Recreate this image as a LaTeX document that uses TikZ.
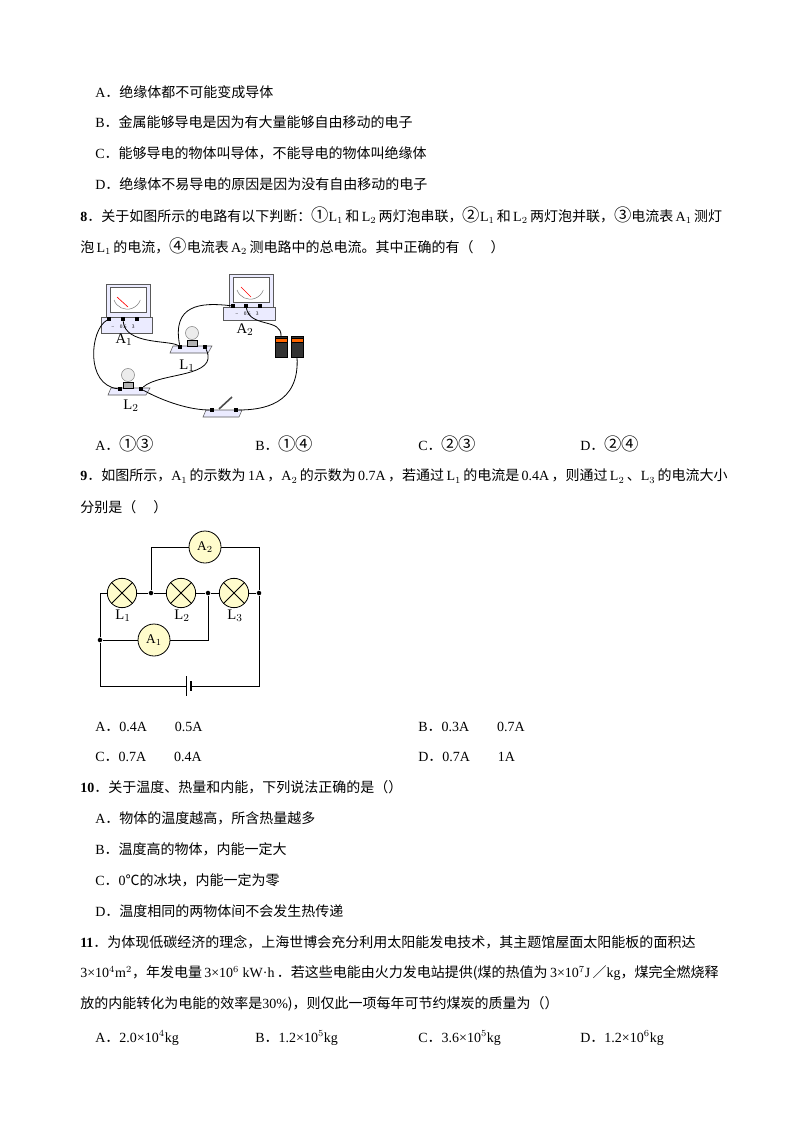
\documentclass[tikz,border=0pt]{standalone}
\usepackage{fontspec}
\setmainfont{Noto Sans CJK SC}
\newfontfamily\lat{Liberation Serif}
\newcommand{\lt}[1]{{\lat\,#1\,}}
\newcommand{\lo}[1]{{\lat #1}}
\newcommand{\nb}[1]{{\lat\bfseries #1}}
\newcommand{\cn}[1]{{\fontsize{13}{12}\selectfont #1}}
\usetikzlibrary{positioning}

\begin{document}
\begin{tikzpicture}[x=0.75pt,y=-0.75pt,
  txt/.style={anchor=west,inner sep=0pt,font=\fontsize{10.5}{12}\selectfont},
  wire/.style={line width=0.6pt,black},
  lamp/.style={circle,draw,line width=0.6pt,fill=yellow!20,minimum size=22,inner sep=0pt},
  meter/.style={circle,draw,line width=0.6pt,fill=yellow!20,minimum size=24,inner sep=0pt,font=\lat\fontsize{10}{10}\selectfont},
  dot/.style={circle,fill,inner sep=1.2pt},
  lab/.style={font=\lat\fontsize{11}{11}\selectfont,inner sep=0pt},
  case/.style={draw=gray!70!black,line width=0.4pt,fill=blue!8},
  face/.style={draw=gray!70!black,line width=0.4pt,fill=white},
  pin/.style={fill=black,minimum size=3pt,inner sep=0pt}]
\useasboundingbox (0,0) rectangle (794,1123);

% question 7, options
\node[txt] (q7a) at (95,92)  {\lo{A}．绝缘体都不可能变成导体};
\node[txt] (q7b) at (95,122) {\lo{B}．金属能够导电是因为有大量能够自由移动的电子};
\node[txt] (q7c) at (95,153) {\lo{C}．能够导电的物体叫导体，不能导电的物体叫绝缘体};
\node[txt] (q7d) at (95,184) {\lo{D}．绝缘体不易导电的原因是因为没有自由移动的电子};

% question 8
\node[txt] (q8) at (80,215) {\nb{8}．关于如图所示的电路有以下判断：\cn{①}\lo{L$_1$}\,和\,\lo{L$_2$}\,两灯泡串联，\cn{②}\lo{L$_1$}\,和\,\lo{L$_2$}\,两灯泡并联，\cn{③}电流表\,\lo{A$_1$}\,测灯};
\node[txt] (q8b) at (80,246) {泡\lt{L$_1$}的电流，\cn{④}电流表\lt{A$_2$}测电路中的总电流。其中正确的有（\quad\ ）};

% pictorial circuit
% ammeter A1
\draw[case] (101,317) rectangle (152,333);
\draw[case] (106,284) rectangle (150,317);
\draw[face] (110,287) rectangle (146,312);
\draw[gray] (114,300) arc (160:20:14);
\draw[red,line width=0.5pt] (128,307) -- (117,297);
\node[pin] (a1m) at (109,319) {};
\node[pin] (a1s) at (123,319) {};
\node[pin] (a1t) at (137,319) {};
\node[font=\lat\fontsize{4}{4}\selectfont] at (123,327) {\textminus\quad 0.6\quad 3};
\node[lab] (lA1) at (124,340) {A$_1$};
% ammeter A2
\draw[case] (223,307) rectangle (275,320);
\draw[case] (229,274) rectangle (273,307);
\draw[face] (233,277) rectangle (269,302);
\draw[gray] (237,290) arc (160:20:14);
\draw[red,line width=0.5pt] (251,297) -- (241,287);
\node[pin] (a2m) at (233,306) {};
\node[pin] (a2s) at (246,306) {};
\node[pin] (a2t) at (260,306) {};
\node[font=\lat\fontsize{4}{4}\selectfont] at (247,314) {\textminus\quad 0.6\quad 3};
\node[lab] (lA2) at (245,330) {A$_2$};
% lamp L1
\draw[case] (173,346) -- (212,346) -- (208,353) -- (170,353) -- cycle;
\draw[fill=gray!60] (187,340) rectangle (197,346);
\draw[fill=gray!15,draw=gray] (192,333) circle (6.5);
\node[pin] (l1a) at (180,347) {};
\node[pin] (l1b) at (205,347) {};
\node[lab] (lL1) at (187,366) {L$_1$};
% lamp L2
\draw[case] (111,388) -- (150,388) -- (146,395) -- (108,395) -- cycle;
\draw[fill=gray!60] (123,382) rectangle (133,388);
\draw[fill=gray!15,draw=gray] (128,375) circle (6.5);
\node[pin] (l2a) at (120,389) {};
\node[pin] (l2b) at (141,389) {};
\node[lab] (lL2) at (131,406) {L$_2$};
% batteries
\foreach \bx in {275,291}{
  \draw[fill=gray!40!black] (\bx,336) rectangle (\bx+12,357);
  \draw[fill=orange!80!red] (\bx,338) rectangle (\bx+12,342);
}
\coordinate (bat1) at (281,336);
\coordinate (bat2) at (297,357);
% switch
\draw[case] (206,410) -- (242,410) -- (239,417) -- (203,417) -- cycle;
\draw[line width=1.2pt,gray!60!black] (219,409) -- (232,397);
\node[pin] (swa) at (212,410) {};
\node[pin] (swb) at (236,410) {};
% wires
\draw[wire] (a1m) .. controls (90,330) and (85,385) .. (l2a);
\draw[wire] (a1s) .. controls (125,345) and (170,340) .. (l1a);
\draw[wire] (l1a) .. controls (172,305) and (200,302) .. (a2m);
\draw[wire] (l1b) .. controls (220,378) and (160,372) .. (l2b);
\draw[wire] (a2s) .. controls (250,328) and (282,318) .. (bat1);
\draw[wire] (bat2) .. controls (300,405) and (262,410) .. (swb);
\draw[wire] (l2b) .. controls (165,402) and (190,410) .. (swa);

\node[txt] (o8a) at (95,444)  {\lo{A}．\cn{①③}};
\node[txt] (o8b) at (255,444) {\lo{B}．\cn{①④}};
\node[txt] (o8c) at (418,444) {\lo{C}．\cn{②③}};
\node[txt] (o8d) at (580,444) {\lo{D}．\cn{②④}};

% question 9
\node[txt] (q9) at (80,476) {\nb{9}．如图所示，\lo{A$_1$}\,的示数为\lt{1A}，\lo{A$_2$}\,的示数为\lt{0.7A}，若通过\lt{L$_1$}的电流是\lt{0.4A}，则通过\lt{L$_2$}、\lo{L$_3$}\,的电流大小};
\node[txt] (q9b) at (80,507) {分别是（\quad\ ）};

% schematic circuit
\node[lamp] (L1) at (122,593) {};
\node[lamp] (L2) at (181,593) {};
\node[lamp] (L3) at (234,593) {};
\foreach \l in {L1,L2,L3}{
  \draw[line width=0.6pt] (\l.45) -- (\l.225) (\l.135) -- (\l.315);
}
\node[meter] (A2) at (205,547) {A$_2$};
\node[meter] (A1) at (154,640) {A$_1$};
\node[dot] (j1) at (151,593) {};
\node[dot] (j2) at (208,593) {};
\node[dot] (j3) at (259,593) {};
\node[dot] (j4) at (100,640) {};
\coordinate (tl) at (100,593);
\coordinate (bl) at (100,686);
\coordinate (br) at (259,686);
\coordinate (bp) at (186,686);
\coordinate (bn) at (191,686);
\draw[wire] (bp) -- (bl) -- (j4) -- (tl) -- (L1) -- (j1) -- (L2) -- (j2) -- (L3) -- (j3) -- (br) -- (bn);
\draw[wire] (j1) |- (A2) -| (j3);
\draw[wire] (j4) -- (A1) -| (j2);
\draw[line width=0.7pt] (186,676) -- (186,696);
\draw[line width=1.4pt] (191,681) -- (191,691);
\node[lab] (lL1b) at (123,616) {L$_1$};
\node[lab] (lL2b) at (182,616) {L$_2$};
\node[lab] (lL3b) at (235,616) {L$_3$};

\node[txt] (o9a) at (95,727)  {\lo{A}．\lo{0.4A}\qquad\lo{0.5A}};
\node[txt] (o9b) at (418,727) {\lo{B}．\lo{0.3A}\qquad\lo{0.7A}};
\node[txt] (o9c) at (95,757)  {\lo{C}．\lo{0.7A}\qquad\lo{0.4A}};
\node[txt] (o9d) at (418,757) {\lo{D}．\lo{0.7A}\qquad\lo{1A}};

% question 10
\node[txt] (q10) at (80,787) {\nb{10}．关于温度、热量和内能，下列说法正确的是（）};
\node[txt] (q10a) at (95,818) {\lo{A}．物体的温度越高，所含热量越多};
\node[txt] (q10b) at (95,849) {\lo{B}．温度高的物体，内能一定大};
\node[txt] (q10c) at (95,880) {\lo{C}．\lo{0}℃的冰块，内能一定为零};
\node[txt] (q10d) at (95,911) {\lo{D}．温度相同的两物体间不会发生热传递};

% question 11
\node[txt] (q11) at (80,942) {\nb{11}．为体现低碳经济的理念，上海世博会充分利用太阳能发电技术，其主题馆屋面太阳能板的面积达};
\node[txt] (q11b) at (80,973) {\lo{3×10$^4$m$^2$}，年发电量\lt{3×10$^6$ kW·h}．若这些电能由火力发电站提供(煤的热值为\lt{3×10$^7$J}／\lo{kg}，煤完全燃烧释};
\node[txt] (q11c) at (80,1004) {放的内能转化为电能的效率是\lo{30\%})，则仅此一项每年可节约煤炭的质量为（）};
\node[txt] (o11a) at (95,1038)  {\lo{A}．\lo{2.0×10$^4$kg}};
\node[txt] (o11b) at (255,1038) {\lo{B}．\lo{1.2×10$^5$kg}};
\node[txt] (o11c) at (418,1038) {\lo{C}．\lo{3.6×10$^5$kg}};
\node[txt] (o11d) at (580,1038) {\lo{D}．\lo{1.2×10$^6$kg}};
\end{tikzpicture}
\end{document}
